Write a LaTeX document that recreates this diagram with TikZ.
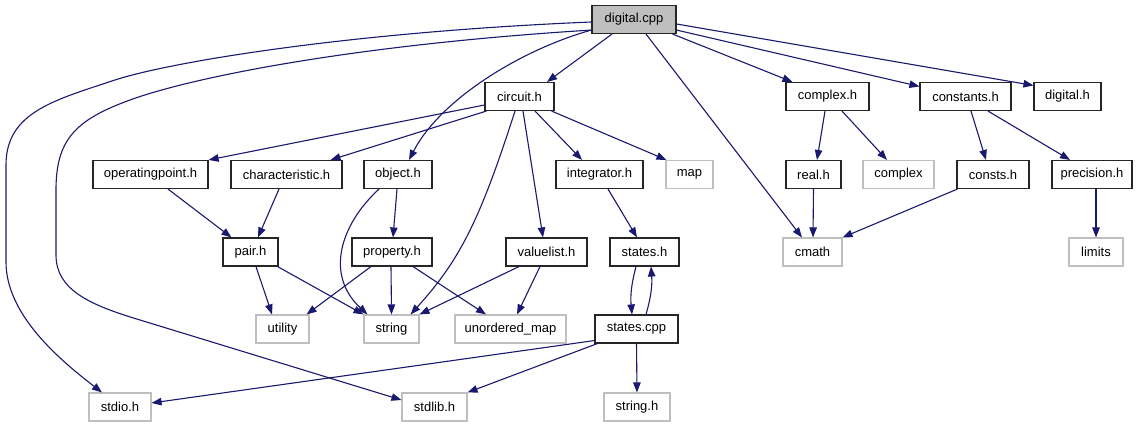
\documentclass[tikz,border=0pt]{standalone}
\usepackage{fontspec}
\setmainfont{Liberation Sans}
\usetikzlibrary{arrows.meta}
\definecolor{depblue}{HTML}{191970}
\definecolor{extgray}{HTML}{BFBFBF}
\begin{document}
\begin{tikzpicture}[x=1pt,y=-1pt,
  box/.style={draw, line width=1.1pt, minimum height=28pt, inner sep=0pt,
              font=\fontsize{13}{15}\selectfont},
  hdr/.style={box, draw=black!85},
  ext/.style={box, draw=extgray},
  src/.style={box, draw=black!85, fill=extgray},
  dep/.style={draw=depblue, line width=1.1pt, -{Triangle[length=10pt,width=7.5pt]}}]
\fill[white] (0,0) rectangle (1144,427);
\useasboundingbox (0,0) rectangle (1144,427);

% row 0
\node[src, minimum width=84pt] (digital) at (634,19.5) {digital.cpp};
% row 1
\node[hdr, minimum width=69pt] (circuit) at (519.5,96.5) {circuit.h};
\node[hdr, minimum width=83pt] (complexh) at (827.5,96.5) {complex.h};
\node[hdr, minimum width=91pt] (constants) at (965.5,96.5) {constants.h};
\node[hdr, minimum width=67pt] (digitalh) at (1067.5,96.5) {digital.h};
% row 2
\node[hdr, minimum width=115pt] (operatingpoint) at (150.5,174.5) {operatingpoint.h};
\node[hdr, minimum width=111pt] (characteristic) at (286.5,174.5) {characteristic.h};
\node[hdr, minimum width=68pt] (object) at (398,174.5) {object.h};
\node[hdr, minimum width=87pt] (integrator) at (599.5,174.5) {integrator.h};
\node[ext, minimum width=47pt] (map) at (689.5,174.5) {map};
\node[hdr, minimum width=55pt] (real) at (813.5,174.5) {real.h};
\node[ext, minimum width=71pt] (complex) at (898.5,174.5) {complex};
\node[hdr, minimum width=72pt] (consts) at (993,174.5) {consts.h};
\node[hdr, minimum width=80pt] (precision) at (1092,174.5) {precision.h};
% row 3
\node[hdr, minimum width=55pt] (pair) at (250.5,252) {pair.h};
\node[hdr, minimum width=80pt] (property) at (392,252) {property.h};
\node[hdr, minimum width=81pt] (valuelist) at (546.5,252) {valuelist.h};
\node[hdr, minimum width=69pt] (states) at (644.5,252) {states.h};
\node[ext, minimum width=59pt] (cmath) at (812.5,252) {cmath};
\node[ext, minimum width=54pt] (limits) at (1096,252) {limits};
% row 4
\node[ext, minimum width=53pt] (utility) at (282.5,329) {utility};
\node[ext, minimum width=55pt] (string) at (391.5,329) {string};
\node[ext, minimum width=111pt] (unordered) at (510.5,329) {unordered\_map};
\node[hdr, minimum width=83pt] (statescpp) at (636.5,329) {states.cpp};
% row 5
\node[ext, minimum width=62pt] (stdio) at (120,407) {stdio.h};
\node[ext, minimum width=65pt] (stdlib) at (434.5,407) {stdlib.h};
\node[ext, minimum width=66pt] (stringh) at (637,407) {string.h};

% includes of digital.cpp
\draw[dep] ([xshift=-22pt]digital.south) -- ([xshift=27.5pt]circuit.north);
\draw[dep] ([yshift=4pt]digital.south west) .. controls (520,50) and (440,100) .. ([xshift=11pt]object.north);
\draw[dep] ([xshift=12pt]digital.south) -- ([xshift=-10.5pt]cmath.north);
\draw[dep] ([xshift=-4pt]digital.south east) -- ([xshift=7pt]complexh.north west);
\draw[dep] ([yshift=4pt]digital.south east) -- ([yshift=-4.5pt]constants.north west);
\draw[dep] ([yshift=-4.5pt]digital.east) -- ([yshift=-3.5pt]digitalh.north west);
\draw[dep] ([yshift=-2.5pt]digital.west) .. controls (350,32) and (170,62) .. (115,80)
  .. controls (55,100) and (6,112) .. (6,165) -- (6,262)
  .. controls (6,315) and (60,360) .. ([xshift=-18pt]stdio.north);
\draw[dep] ([yshift=4pt]digital.south west) .. controls (350,45) and (190,78) .. (130,100)
  .. controls (75,120) and (56,140) .. (56,190) -- (56,255)
  .. controls (56,290) and (90,305) .. (140,320) -- ([yshift=7pt]stdlib.west);

% includes of circuit.h
\draw[dep] ([yshift=-8.5pt]circuit.west) -- (operatingpoint.north east);
\draw[dep] ([xshift=2pt]circuit.south west) -- ([xshift=-12pt]characteristic.north east);
\draw[dep] ([xshift=15.5pt]circuit.south) -- ([xshift=-17.5pt]integrator.north);
\draw[dep] ([xshift=-3pt]circuit.south east) -- ([xshift=1pt]map.north west);
\draw[dep] ([xshift=-4.5pt]circuit.south) .. controls (480,220) and (460,260) .. ([xshift=-9pt]string.north east);
\draw[dep] ([xshift=3.5pt]circuit.south) -- ([xshift=-3.5pt]valuelist.north);

% includes of object.h
\draw[dep] ([xshift=-1pt]object.south) -- ([xshift=1pt]property.north);
\draw[dep] ([xshift=-19pt]object.south) .. controls (340,225) and (325,275) .. ([xshift=4pt]string.north west);

% pair.h and its users
\draw[dep] ([xshift=17.5pt]operatingpoint.south) -- ([xshift=9pt]pair.north west);
\draw[dep] ([xshift=-7.5pt]characteristic.south) -- ([xshift=7.5pt]pair.north);
\draw[dep] ([xshift=5.5pt]pair.south) -- ([xshift=-10.5pt]utility.north);
\draw[dep] ([xshift=-1pt]pair.south east) -- (string.north west);

% property.h and valuelist.h
\draw[dep] ([xshift=-21pt]property.south) -- ([xshift=-3pt]utility.north east);
\draw[dep] ([xshift=-1pt]property.south) -- (string.north);
\draw[dep] ([xshift=21pt]property.south) -- ([xshift=-24.5pt]unordered.north);
\draw[dep] ([xshift=-27.5pt]valuelist.south) -- (string.north east);
\draw[dep] ([xshift=-6.5pt]valuelist.south) -- ([xshift=6.5pt]unordered.north);

% integrator.h and states
\draw[dep] ([xshift=8.5pt]integrator.south) -- ([xshift=-7.5pt]states.north);
\draw[dep] ([xshift=-8.5pt]states.south) to[bend right=10] ([xshift=-4.5pt]statescpp.north);
\draw[dep] ([xshift=9.5pt]statescpp.north) to[bend right=10] ([xshift=6.5pt]states.south);
\draw[dep] ([yshift=3pt]statescpp.south west) -- ([yshift=4pt]stdio.east);
\draw[dep] ([xshift=3pt]statescpp.south west) -- (stdlib.north east);
\draw[dep] (statescpp.south) -- (stringh.north);

% complex.h and constants.h
\draw[dep] ([xshift=-2.5pt]complexh.south) -- ([xshift=3.5pt]real.north);
\draw[dep] ([xshift=14.5pt]complexh.south) -- ([xshift=-11.5pt]complex.north);
\draw[dep] ([xshift=5.5pt]constants.south) -- ([xshift=-7pt]consts.north);
\draw[dep] ([xshift=22.5pt]constants.south) -- ([xshift=-22pt]precision.north);
\draw[dep] (real.south) -- ([xshift=0.5pt]cmath.north);
\draw[dep] ([xshift=1pt]consts.south west) -- (cmath.north east);
\draw[dep] ([xshift=4pt]precision.south) -- (limits.north);
\end{tikzpicture}
\end{document}
